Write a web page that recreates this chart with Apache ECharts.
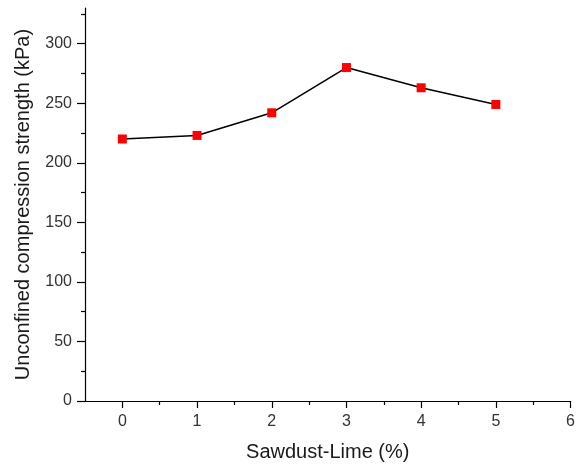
<!DOCTYPE html>
<html><head><meta charset="utf-8">
<script src="https://cdn.jsdelivr.net/npm/echarts@6/dist/echarts.min.js"></script>
<style>html,body{margin:0;padding:0;background:#fff}#c{width:578px;height:467px}</style>
</head><body><div id="c"></div>
<script>
const xValues = [0, 1, 2, 3, 4, 5];
const strength = [220, 223, 242, 280, 263, 249];
const xMajorTicks = [0, 1, 2, 3, 4, 5, 6];
const xMinorTicks = [0.5, 1.5, 2.5, 3.5, 4.5, 5.5];
const yMajorTicks = [0, 50, 100, 150, 200, 250, 300];
const yMinorTicks = [25, 75, 125, 175, 225, 275, 325];

const font = 'Liberation Sans, Arial, sans-serif';
const chart = echarts.init(document.getElementById('c'));
const grid = {left: 85, right: 3, top: 8, bottom: 63};
chart.setOption({
  animation: false,
  grid: grid,
  xAxis: [{
    type: 'value', min: -0.5, max: 6,
    name: 'Sawdust-Lime (%)', nameLocation: 'middle', nameGap: 41,
    nameTextStyle: {fontFamily: font, fontSize: 20, color: '#1a1a1a'},
    axisLine: {show: true, onZero: false, lineStyle: {color: '#000', width: 1.2}},
    axisTick: {show: true, customValues: xMajorTicks, length: 7, lineStyle: {color: '#000', width: 1.2}},
    axisLabel: {customValues: xMajorTicks, margin: 13, fontFamily: font, fontSize: 16, color: '#333'},
    splitLine: {show: false}
  }, {
    type: 'value', min: -0.5, max: 6, position: 'bottom',
    axisLine: {show: false, onZero: false},
    axisTick: {show: true, customValues: xMinorTicks, length: 4, lineStyle: {color: '#000', width: 1.2}},
    axisLabel: {show: false},
    splitLine: {show: false}
  }],
  yAxis: [{
    type: 'value', min: 0, max: 330,
    name: 'Unconfined compression strength (kPa)', nameLocation: 'middle', nameGap: 52,
    nameTextStyle: {fontFamily: font, fontSize: 20, color: '#1a1a1a'},
    axisLine: {show: true, onZero: false, lineStyle: {color: '#000', width: 1.2}},
    axisTick: {show: true, customValues: yMajorTicks, length: 8, lineStyle: {color: '#000', width: 1.2}},
    axisLabel: {customValues: yMajorTicks, margin: 13, fontFamily: font, fontSize: 16, color: '#333'},
    splitLine: {show: false}
  }, {
    type: 'value', min: 0, max: 330, position: 'left',
    axisLine: {show: false, onZero: false},
    axisTick: {show: true, customValues: yMinorTicks, length: 4, lineStyle: {color: '#000', width: 1.2}},
    axisLabel: {show: false},
    splitLine: {show: false}
  }],
  series: [{
    type: 'line',
    data: xValues.map((x, i) => [x, strength[i]]),
    symbol: 'rect', symbolSize: 9,
    itemStyle: {color: '#ff0000'},
    lineStyle: {color: '#000', width: 1.5},
    z: 3
  }]
});
</script></body></html>
